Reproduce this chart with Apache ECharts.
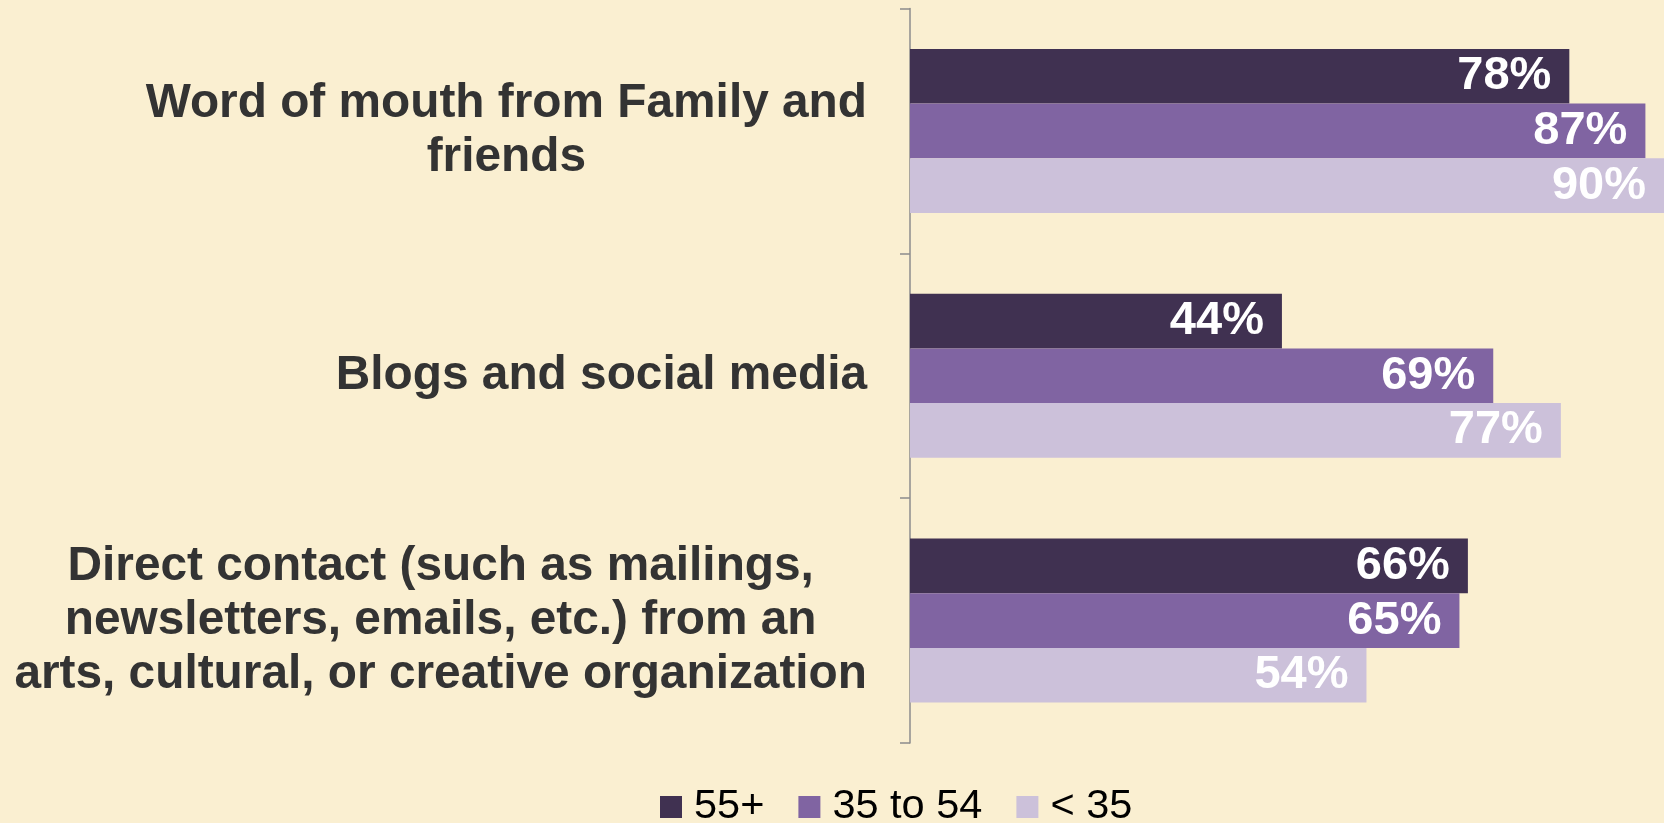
<!DOCTYPE html>
<html>
<head>
<meta charset="utf-8">
<script src="https://cdn.jsdelivr.net/npm/echarts@6/dist/echarts.min.js"></script>
<style>
  html, body { margin: 0; padding: 0; background: #FAEFD1; }
  #chart { width: 1664px; height: 823px; }
</style>
</head>
<body>
<div id="chart"></div>
<script>
const categories = [
  'Word of mouth from Family and\nfriends',
  'Blogs and social media',
  'Direct contact (such as mailings,\nnewsletters, emails, etc.) from an\narts, cultural, or creative organization'
];
const seriesNames = ['55+', '35 to 54', '< 35'];
const values55plus = [78, 44, 66];
const values35to54 = [87, 69, 65];
const valuesUnder35 = [90, 77, 54];
const colors = ['#403151', '#8064A2', '#CCC1DA'];

const FONT = '"Liberation Sans", Arial, sans-serif';
const seriesData = [values55plus, values35to54, valuesUnder35];

const chart = echarts.init(document.getElementById('chart'), null, { renderer: 'canvas' });
chart.setOption({
  backgroundColor: '#FAEFD1',
  animation: false,
  grid: { left: 910, right: 0, top: 8.5, bottom: 80, containLabel: false },
  xAxis: {
    type: 'value', min: 0, max: 89.2,
    show: false,
    splitLine: { show: false }
  },
  yAxis: {
    type: 'category',
    inverse: true,
    data: categories,
    axisLine: { show: true, lineStyle: { color: '#8C8C8C', width: 1.5 } },
    axisTick: { show: true, length: 10, lineStyle: { color: '#8C8C8C', width: 1.5 } },
    axisLabel: {
      margin: 43,
      align: 'right',
      formatter: function (v) {
        return v.split('\n').map(function (l) { return '{c|' + l + '}'; }).join('\n');
      },
      rich: {
        c: {
          align: 'center',
          fontSize: 47.8,
          fontWeight: 'bold',
          fontFamily: FONT,
          color: '#333333',
          lineHeight: 54
        }
      }
    }
  },
  legend: {
    left: 660,
    top: 786,
    padding: 0,
    itemWidth: 22,
    itemHeight: 22,
    itemGap: 34,
    icon: 'rect',
    textStyle: { fontSize: 41.5, fontFamily: FONT, color: '#000000', lineHeight: 42, padding: [0, 0, 0, 7] },
    data: seriesNames
  },
  series: seriesNames.map(function (name, i) {
    return {
      name: name,
      type: 'bar',
      data: seriesData[i],
      barGap: '0%',
      barCategoryGap: '33%',
      clip: true,
      itemStyle: { color: colors[i] },
      label: {
        show: true,
        position: 'insideRight',
        distance: 18,
        formatter: '{c}%',
        color: '#FFFFFF',
        fontSize: 47,
        fontWeight: 'bold',
        fontFamily: FONT
      }
    };
  })
});
</script>
</body>
</html>
